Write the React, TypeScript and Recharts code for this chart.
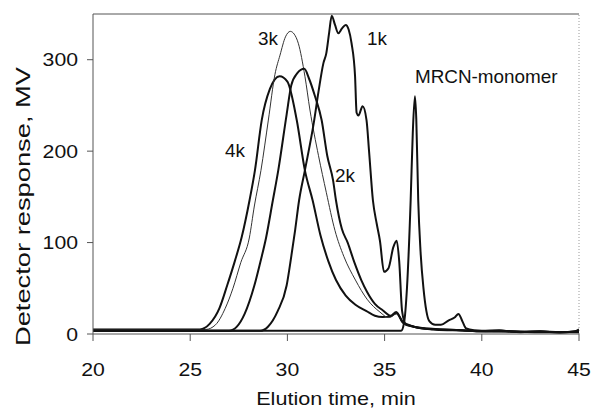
import React from 'react';
import { LineChart, Line, XAxis, YAxis, ReferenceLine, ReferenceDot, Label } from 'recharts';

// Elution times (min) and detector responses (MV) for each sample
const t4k = [20, 25.5, 26, 26.5, 26.9, 27.3, 27.65, 28.05, 28.33, 28.68, 29.1, 29.6, 30.0, 30.48, 30.9, 31.3, 31.7, 32.1, 32.5, 33, 33.5, 34.07, 34.5, 34.9, 35.3, 35.6, 35.95, 36.5, 37.2, 38, 39, 40, 41, 42, 43, 44, 45];
const v4k = [5, 5, 11, 28, 53, 80, 106, 146, 179, 234, 268, 282, 276, 234, 179, 146, 108, 80, 59, 42, 32, 25, 20, 18.5, 19, 23, 13, 8, 6, 5, 4, 3, 3.5, 2.5, 3, 2, 3];

const t3k = [20, 25.8, 26.3, 26.8, 27.2, 27.6, 28.04, 28.3, 28.64, 29.02, 29.36, 29.62, 29.9, 30.15, 30.35, 30.56, 30.9, 31.16, 31.6, 32.0, 32.45, 32.9, 33.5, 34.1, 34.76, 35.2, 35.6, 35.95, 36.5, 37.5, 38.5, 40, 42, 45];
const v3k = [5, 5, 10, 28, 50, 78, 105, 140, 179, 234, 284, 305, 325, 331, 328, 318, 282, 245, 195, 155, 113, 85, 59, 38, 24, 18, 22, 12, 8, 5, 4, 3, 2.5, 2];

const t2k = [20, 27.0, 27.4, 27.8, 28.3, 28.6, 28.9, 29.25, 29.53, 29.96, 30.2, 30.5, 30.87, 31.1, 31.42, 31.76, 32.05, 32.35, 32.5, 32.8, 33.1, 33.45, 33.8, 34.1, 34.5, 34.9, 35.3, 35.6, 35.95, 36.5, 37.5, 38.5, 40, 42, 45];
const v2k = [3.5, 3.5, 8, 22, 53, 78, 105, 146, 179, 240, 272, 285, 290, 280, 260, 234, 195, 168, 146, 115, 100, 78, 59, 46, 33, 26, 20, 24, 12, 8, 5, 4, 3, 2.5, 2];

const t1k = [20, 28.6, 29.0, 29.5, 29.96, 30.2, 30.4, 30.6, 30.9, 31.35, 31.6, 31.85, 32.0, 32.15, 32.28, 32.45, 32.62, 32.8, 33.0, 33.15, 33.3, 33.48, 33.56, 33.65, 33.87, 34.07, 34.2, 34.4, 34.6, 34.76, 34.97, 35.2, 35.45, 35.62, 35.75, 35.9, 36.1, 36.5, 37, 38, 39, 40, 41, 42, 43, 44, 45];
const v1k = [3.5, 3.5, 8, 25, 53, 85, 114, 146, 179, 230, 265, 296, 307, 330, 348, 338, 329, 334, 338, 333, 318, 282, 242, 239, 249, 234, 200, 146, 120, 102, 68, 72, 95, 102, 80, 25, 10, 8, 6, 5, 4, 3, 3, 2.5, 2, 2, 3];

const tMono = [20, 35.85, 36.0, 36.15, 36.34, 36.45, 36.56, 36.63, 36.73, 36.85, 37.0, 37.15, 37.3, 37.6, 37.9, 38.3, 38.6, 38.8, 39.0, 39.2, 39.6, 40, 40.9, 41.5, 42, 43, 44, 44.8, 45];
const vMono = [3.5, 3.5, 12, 50, 146, 220, 260, 235, 146, 90, 50, 25, 14, 10, 10, 15, 18, 22, 14, 6, 4, 3.5, 4, 2.5, 2, 3, 1.5, 3, 5];

const xTicks = [20, 25, 30, 35, 40, 45];
const yTicks = [0, 100, 200, 300];

const curveLabels = [
  { text: '3k', t: 28.49, v: 316.5 },
  { text: '1k', t: 34.09, v: 316.5 },
  { text: '4k', t: 26.79, v: 193.4 },
  { text: '2k', t: 32.45, v: 166 },
  { text: 'MRCN-monomer', t: 36.56, v: 274.6 },
];

const pts = (ts: number[], vs: number[]) => ts.map((t, i) => ({ t, v: vs[i] }));

const FONT = '"Liberation Sans", Arial, sans-serif';

const XTick = (props: any) => {
  const { x, y, payload } = props;
  return (
    <g transform={`translate(${x},${y}) scale(1.18,1)`}>
      <text x={0} y={0} dy={33} textAnchor="middle" fontFamily={FONT} fontSize={18} fill="#111">
        {payload.value}
      </text>
    </g>
  );
};

const YTick = (props: any) => {
  const { x, y, payload } = props;
  return (
    <g transform={`translate(${x - 7},${y}) scale(1.18,1)`}>
      <text x={0} y={0} dy={6.5} textAnchor="end" fontFamily={FONT} fontSize={18} fill="#111">
        {payload.value}
      </text>
    </g>
  );
};

export default function App() {
  return (
    <div style={{ position: 'absolute', left: 0, top: 0, background: '#fff' }}>
      <LineChart width={591} height={409} margin={{ top: 14, right: 12, left: 0, bottom: 0 }}>
        <XAxis
          type="number"
          dataKey="t"
          domain={[20, 45]}
          ticks={xTicks}
          allowDataOverflow
          height={75}
          stroke="#555"
          tickSize={7}
          tick={<XTick />}
        >
          <Label
            content={() => (
              <g transform="translate(336,405) scale(1.2,1)">
                <text x={0} y={0} textAnchor="middle" fontFamily={FONT} fontSize={18} fill="#111">
                  Elution time, min
                </text>
              </g>
            )}
          />
        </XAxis>
        <YAxis
          type="number"
          domain={[0, 350]}
          ticks={yTicks}
          allowDataOverflow
          width={93}
          stroke="#555"
          tickSize={6}
          tick={<YTick />}
        >
          <Label
            content={() => (
              <g transform="translate(30,206.5) rotate(-90) scale(1.3,1)">
                <text x={0} y={0} textAnchor="middle" fontFamily={FONT} fontSize={21} fill="#111">
                  Detector response, MV
                </text>
              </g>
            )}
          />
        </YAxis>
        <ReferenceLine y={350} stroke="#555" strokeWidth={1} />
        <ReferenceLine x={45} stroke="#999" strokeWidth={1} strokeDasharray="1 2" />
        <Line data={pts(t4k, v4k)} dataKey="v" type="monotone" stroke="#111" strokeWidth={2} dot={false} isAnimationActive={false} />
        <Line data={pts(t3k, v3k)} dataKey="v" type="monotone" stroke="#333" strokeWidth={1} dot={false} isAnimationActive={false} />
        <Line data={pts(t2k, v2k)} dataKey="v" type="monotone" stroke="#111" strokeWidth={2} dot={false} isAnimationActive={false} />
        <Line data={pts(t1k, v1k)} dataKey="v" type="monotone" stroke="#111" strokeWidth={2} dot={false} isAnimationActive={false} />
        <Line data={pts(tMono, vMono)} dataKey="v" type="monotone" stroke="#111" strokeWidth={2} dot={false} isAnimationActive={false} />
        {curveLabels.map((c) => (
          <ReferenceDot
            key={c.text}
            x={c.t}
            y={c.v}
            r={0}
            shape={(p: any) => (
              <g transform={`translate(${p.cx},${p.cy}) scale(1.05,1)`}>
                <text x={0} y={0} textAnchor="start" fontFamily={FONT} fontSize={18} fill="#111">
                  {c.text}
                </text>
              </g>
            )}
          />
        ))}
      </LineChart>
    </div>
  );
}
